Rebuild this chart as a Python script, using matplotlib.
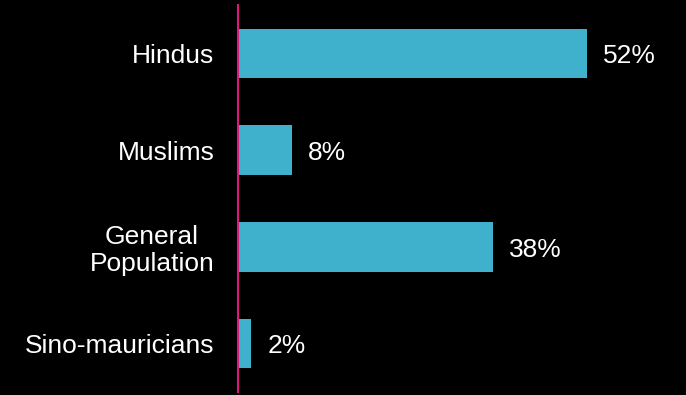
import matplotlib
matplotlib.use('Agg')
import matplotlib.pyplot as plt

# Share of each community
categories = ["Hindus", "Muslims", "General\nPopulation", "Sino-mauricians"]
values = [52, 8, 38, 2]
value_labels = ["52%", "8%", "38%", "2%"]

plt.rcParams['font.family'] = ['Liberation Sans', 'DejaVu Sans']

fig = plt.figure(figsize=(6.86, 3.95), dpi=100, facecolor='black')
ax = fig.add_axes([238 / 686, (395 - 392) / 395, (686 - 238) / 686, 387 / 395])
ax.set_facecolor('black')

pos = list(range(len(categories)))
ax.barh(pos, values, height=0.51, color='#3FB1CD', zorder=2)
for p, v, lab in zip(pos, values, value_labels):
    ax.annotate(lab, (v, p), xytext=(11.5, -2), textcoords='offset points',
                va='center', ha='left', color='white', fontsize=19)

ax.set_xlim(0, 66.8)
ax.set_ylim(3.5, -0.5)
ax.set_yticks(pos)
ax.set_yticklabels(categories, fontsize=19, color='white', linespacing=1.15,
                   multialignment='center')
ax.tick_params(axis='y', length=0, pad=17)
ax.set_xticks([])
for s in ['top', 'right', 'bottom']:
    ax.spines[s].set_visible(False)
ax.spines['left'].set_color('#DA1A78')
ax.spines['left'].set_linewidth(1.5)

fig.savefig('out.png', dpi=100, facecolor='black')
